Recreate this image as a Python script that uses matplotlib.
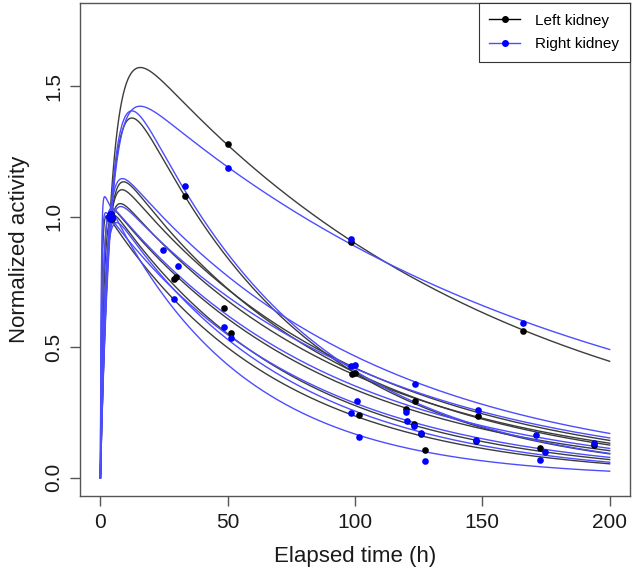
import numpy as np
import matplotlib
matplotlib.use('Agg')
import matplotlib.pyplot as plt
from matplotlib.lines import Line2D

plt.rcParams['font.family'] = ['Liberation Sans', 'DejaVu Sans']

# Fitted uptake/washout curves: y = A * (exp(-ke t) - exp(-ka t))
left_A = [1.81, 1.765, 1.24, 1.17, 1.30, 1.10, 1.10, 1.05]
left_ka = [0.23, 0.24, 0.45, 0.50, 0.40, 1.0, 0.8, 2.0]
left_ke = [0.0070, 0.0148, 0.0108, 0.0109, 0.0117, 0.0118, 0.0138, 0.0149]

right_A = [1.60, 1.80, 1.28, 1.15, 1.10, 1.05, 1.10, 1.12]
right_ka = [0.245, 0.24, 0.45, 0.50, 1.0, 2.5, 0.6, 3.0]
right_ke = [0.0059, 0.0148, 0.0101, 0.0101, 0.0114, 0.0130, 0.0146, 0.0190]

# Measured points
left_t = [3.5, 4.0, 4.5, 3.8, 4.2, 4.0, 3.6, 4.4,
          50.1, 98.3, 166.0, 33.1, 29.7, 29.0, 48.4, 51.4, 98.7, 100.0,
          123.5, 120.0, 101.6, 123.1, 125.8, 127.5, 148.4, 147.5, 172.5, 193.7]
left_y = [1.0, 1.0, 0.99, 1.0, 1.0, 1.01, 1.0, 1.0,
          1.280, 0.905, 0.562, 1.081, 0.770, 0.760, 0.651, 0.555, 0.396, 0.403,
          0.294, 0.262, 0.242, 0.206, 0.166, 0.108, 0.238, 0.142, 0.113, 0.127]

right_t = [3.5, 4.0, 4.5, 3.8, 4.2, 4.0, 3.6, 4.4,
           50.1, 98.3, 166.0, 33.3, 24.6, 30.3, 29.0, 48.4, 51.4, 98.3, 100.0,
           123.5, 100.9, 120.0, 98.3, 120.3, 123.3, 125.8, 101.6, 127.5,
           148.4, 147.5, 171.0, 174.5, 172.5, 193.7]
right_y = [1.0, 1.0, 1.0, 0.99, 1.0, 1.0, 1.01, 1.0,
           1.187, 0.914, 0.592, 1.120, 0.872, 0.812, 0.685, 0.578, 0.537, 0.427, 0.431,
           0.360, 0.296, 0.251, 0.247, 0.219, 0.199, 0.170, 0.155, 0.063,
           0.258, 0.146, 0.162, 0.100, 0.068, 0.132]

t = np.linspace(0, 200, 1001)


def model(A, ka, ke):
    return A * (np.exp(-ke * t) - np.exp(-ka * t))


fig = plt.figure(figsize=(6.33, 5.76), dpi=100)
ax = fig.add_axes([0.1264, 0.1389, 0.8689, 0.8559])

black_line = '#3c3c3c'
blue_line = '#4d4dff'

for A, ka, ke in zip(left_A, left_ka, left_ke):
    ax.plot(t, model(A, ka, ke), color=black_line, lw=1.0)
for A, ka, ke in zip(right_A, right_ka, right_ke):
    ax.plot(t, model(A, ka, ke), color=blue_line, lw=1.0)

ax.plot(left_t, left_y, 'o', color='black', ms=4.8, mec='none')
ax.plot(right_t, right_y, 'o', color='#0000ff', ms=4.8, mec='none')

ax.set_xlim(-8, 208)
ax.set_ylim(-0.07, 1.82)
ax.set_xticks([0, 50, 100, 150, 200])
ax.set_yticks([0.0, 0.5, 1.0, 1.5])
ax.set_yticklabels(['0.0', '0.5', '1.0', '1.5'], rotation=90, va='center')
ax.tick_params(direction='out', length=7, width=1, colors='#555555',
               labelcolor='#1a1a1a', labelsize=15, pad=5)
for s in ax.spines.values():
    s.set_color('#555555')
    s.set_linewidth(1.0)

ax.set_xlabel('Elapsed time (h)', fontsize=16, color='#1a1a1a', labelpad=10)
ax.set_ylabel('Normalized activity', fontsize=16, color='#1a1a1a', labelpad=10)

handles = [Line2D([0], [0], color='black', lw=1, marker='o', ms=4),
           Line2D([0], [0], color='#4d4dff', lw=1, marker='o', ms=4, mfc='#0000ff', mec='#0000ff')]
leg = ax.legend(handles, ['Left kidney', 'Right kidney'], loc='upper right',
                fontsize=11, frameon=True, fancybox=False, framealpha=1,
                edgecolor='#333333', borderaxespad=0, handlelength=2.0,
                handletextpad=1.0, labelspacing=0.6, borderpad=0.7)
leg.get_frame().set_linewidth(0.8)

fig.savefig('out.png', dpi=100)
